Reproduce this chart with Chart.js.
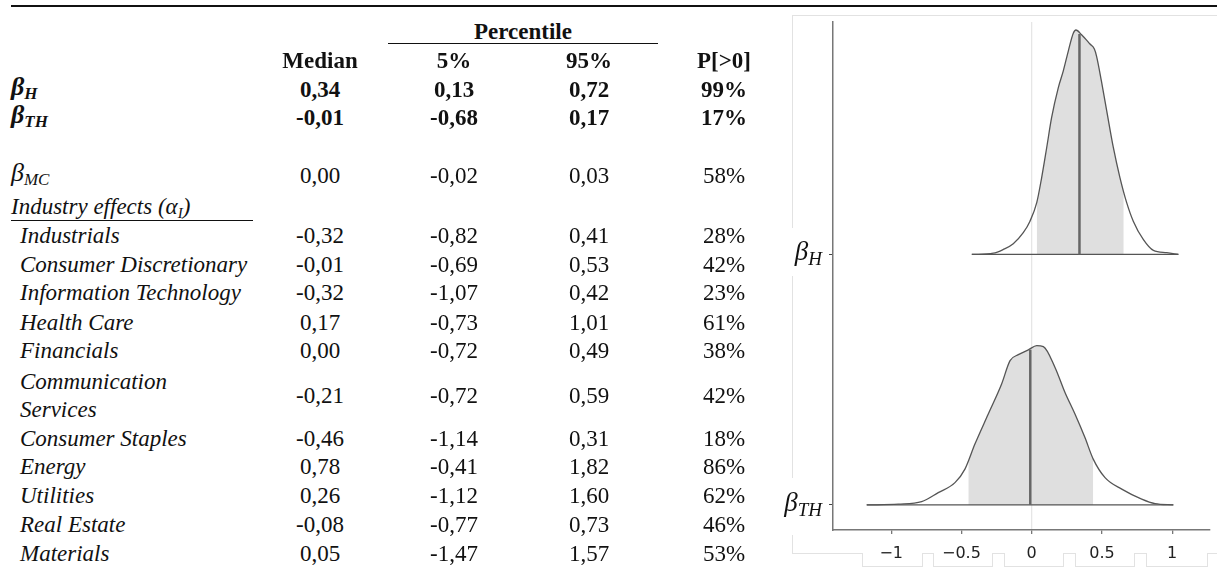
<!DOCTYPE html>
<html>
<head>
<meta charset="utf-8">
<script src="https://cdn.jsdelivr.net/npm/chart.js@4.4.1/dist/chart.umd.min.js"></script>
<style>
  html, body { margin:0; padding:0; background:#fff; }
  #page { position:relative; width:1217px; height:572px; overflow:hidden; background:#fff;
          font-family:"Liberation Serif","Times New Roman",serif; font-size:23px; color:#111; }
  .t { position:absolute; height:28px; line-height:28px; white-space:nowrap; }
  .c { width:200px; text-align:center; }
  .b { font-weight:bold; }
  .i { font-style:italic; }
  .beta { font-size:26px; }
  .sub { position:relative; top:4px; font-size:17px; }
  .rule { position:absolute; background:#111; }
  .fr { position:absolute; background:#e2e2e2; }
  #wrap { position:absolute; left:770px; top:0; width:447px; height:572px; }
</style>
</head>
<body>
<div id="page">
  <div id="wrap"><canvas id="c" width="447" height="572"></canvas></div>
</div>
<script>
// ---------- table data ----------
const industries = ['Industrials','Consumer Discretionary','Information Technology','Health Care','Financials',
  'Communication Services','Consumer Staples','Energy','Utilities','Real Estate','Materials'];
const medianVals = [0.34,-0.01,0.00,-0.32,-0.01,-0.32,0.17,0.00,-0.21,-0.46,0.78,0.26,-0.08,0.05];
const pct5Vals   = [0.13,-0.68,-0.02,-0.82,-0.69,-1.07,-0.73,-0.72,-0.72,-1.14,-0.41,-1.12,-0.77,-1.47];
const pct95Vals  = [0.72,0.17,0.03,0.41,0.53,0.42,1.01,0.49,0.59,0.31,1.82,1.60,0.73,1.57];
const probPos    = [99,17,58,28,42,23,61,38,42,18,86,62,46,53];
const colHeaders = ['Median','5%','95%','P[>0]'];

// ---------- ridge (density) data ----------
const ridgeLabels = [{main:'β', sub:'H'}, {main:'β', sub:'TH'}];
const ridgeBase = [2, 1];
// beta_H density
const hX = [-0.426,-0.273,-0.202,-0.131,-0.060,-0.012,0.036,0.071,0.107,0.142,0.190,0.225,0.261,0.296,0.315,0.355,0.415,0.446,0.461,0.496,0.534,0.581,0.628,0.676,0.723,0.794,0.866,0.961,1.044];
const hD = [0,0.005,0.020,0.043,0.087,0.133,0.207,0.307,0.427,0.547,0.667,0.733,0.813,0.883,0.896,0.877,0.840,0.820,0.793,0.693,0.573,0.427,0.307,0.207,0.133,0.060,0.016,0.007,0];
const hBand = [0.036, 0.655];
const hBandEdge = [0.207, 0.25];
const hMedian = 0.34, hMedianH = 0.88;
// beta_TH density
const tX = [-1.174,-0.949,-0.783,-0.665,-0.546,-0.475,-0.404,-0.309,-0.214,-0.154,-0.095,-0.024,0.036,0.083,0.166,0.237,0.308,0.379,0.438,0.522,0.641,0.783,0.878,1.008];
const tD = [0,0.003,0.013,0.049,0.089,0.143,0.243,0.363,0.483,0.576,0.600,0.619,0.636,0.632,0.549,0.449,0.363,0.269,0.183,0.109,0.063,0.023,0.005,0];
const tBand = [-0.451, 0.438];
const tBandEdge = [0.17, 0.183];
const tMedian = -0.01, tMedianH = 0.62;
const xTicks = [-1,-0.5,0,0.5,1];

// ---------- build table ----------
const page = document.getElementById('page');
function add(html, cls, style){
  const d = document.createElement('div');
  d.className = 't ' + cls; d.innerHTML = html;
  Object.assign(d.style, style); page.appendChild(d); return d;
}
function rule(l,t,w,h,cls){ const d=document.createElement('div'); d.className=cls||'rule';
  Object.assign(d.style,{left:l+'px',top:t+'px',width:w+'px',height:h+'px'}); page.appendChild(d); }
const fmt = v => v.toFixed(2).replace('.',',');

const colX = [320, 454, 589, 724];
rule(11,5,1206,2);
add('Percentile','c b',{left:(523-100)+'px', top:(32-14)+'px'});
rule(388,43,270,1);
colHeaders.forEach((h,i)=> add(h,'c b',{left:(colX[i]-100)+'px', top:(61-14)+'px'}));

const rowY = [90,118,176,236,264.5,293,322.5,351,395.5,438.5,466.5,495.5,524.5,553.5];
const mathLabels = [
  '<span class="i b"><span class="beta">β</span><span class="sub">H</span></span>',
  '<span class="i b"><span class="beta">β</span><span class="sub">TH</span></span>',
  '<span class="i"><span class="beta">β</span><span class="sub">MC</span></span>'
];
mathLabels.forEach((m,i)=> add(m,'',{left:'11px', top:(rowY[i]-17)+'px'}));
add('<span class="i">Industry effects (α<span class="sub" style="font-size:15px">I</span>)</span>','',{left:'11px', top:(207-14)+'px'});
rule(11,220,242,1);
industries.forEach((n,k)=>{
  const y = rowY[k+3];
  if(n==='Communication Services'){
    add('Communication','i',{left:'20px', top:(381.5-14)+'px'});
    add('Services','i',{left:'20px', top:(409.5-14)+'px'});
  } else add(n,'i',{left:'20px', top:(y-14)+'px'});
});
medianVals.forEach((v,i)=>{
  const cls = i<2 ? 'c b' : 'c';
  const top = (rowY[i]-14)+'px';
  add(fmt(v), cls, {left:(colX[0]-100)+'px', top});
  add(fmt(pct5Vals[i]), cls, {left:(colX[1]-100)+'px', top});
  add(fmt(pct95Vals[i]), cls, {left:(colX[2]-100)+'px', top});
  add(probPos[i]+'%', cls, {left:(colX[3]-100)+'px', top});
});

// light panel frame (screenshot artefact)
rule(792,15,425,1,'fr');
[[15,228],[276,478],[535,553]].forEach(s=>rule(792,s[0],1,s[1]-s[0],'fr'));
[[792,862],[922,933],[992,1004],[1063,1075],[1134,1146],[1207,1217]].forEach(s=>rule(s[0],553,s[1]-s[0],1,'fr'));
[[862,922],[933,992],[1004,1063],[1075,1134],[1146,1207]].forEach(s=>{
  rule(s[0],553,1,13,'fr'); rule(s[1],553,1,13,'fr'); rule(s[0],566,s[1]-s[0]+1,1,'fr');
});

// ---------- chart ----------
function curve(xs, ds, base){ return xs.map((x,i)=>({x, y: base + ds[i]})); }
function band(xs, ds, base, rng, edge){
  const pts = [{x:rng[0], y:base+edge[0]}];
  xs.forEach((x,i)=>{ if(x>rng[0] && x<rng[1]) pts.push({x, y:base+ds[i]}); });
  pts.push({x:rng[1], y:base+edge[1]});
  return pts;
}
const lineCol = '#555', fillCol = '#dfdfdf', medCol = '#666';
const common = {pointRadius:0, cubicInterpolationMode:'monotone'};

const yLabelPlugin = {
  id:'ylabels',
  afterDraw(chart){
    const ctx = chart.ctx, ys = chart.scales.y, xr = chart.chartArea.left - 11;
    ridgeLabels.forEach((lab,i)=>{
      const y = ys.getPixelForValue(ridgeBase[i]);
      ctx.save(); ctx.fillStyle = '#111'; ctx.textBaseline = 'alphabetic'; ctx.textAlign = 'left';
      const mf = 'italic 27px "Liberation Serif"', sf = 'italic 19px "Liberation Serif"';
      ctx.font = sf; const sw = ctx.measureText(lab.sub).width;
      ctx.font = mf; const mw = ctx.measureText(lab.main).width;
      ctx.fillText(lab.main, xr - sw - mw, y + 6);
      ctx.font = sf; ctx.fillText(lab.sub, xr - sw, y + 11);
      ctx.restore();
    });
  }
};

new Chart(document.getElementById('c'), {
  type:'line',
  data:{ datasets:[
    {data:[{x:hMedian,y:ridgeBase[0]},{x:hMedian,y:ridgeBase[0]+hMedianH}], borderColor:medCol, borderWidth:2.5, order:0, pointRadius:0},
    {data:[{x:tMedian,y:ridgeBase[1]},{x:tMedian,y:ridgeBase[1]+tMedianH}], borderColor:medCol, borderWidth:2.5, order:0, pointRadius:0},
    {data:curve(hX,hD,ridgeBase[0]), borderColor:lineCol, borderWidth:1.3, fill:false, order:1, ...common},
    {data:curve(tX,tD,ridgeBase[1]), borderColor:lineCol, borderWidth:1.3, fill:false, order:1, ...common},
    {data:[{x:hX[0],y:ridgeBase[0]},{x:hX[hX.length-1],y:ridgeBase[0]}], borderColor:lineCol, borderWidth:1.3, order:1, pointRadius:0},
    {data:[{x:tX[0],y:ridgeBase[1]},{x:tX[tX.length-1],y:ridgeBase[1]}], borderColor:lineCol, borderWidth:1.3, order:1, pointRadius:0},
    {data:band(hX,hD,ridgeBase[0],hBand,hBandEdge), borderWidth:0, borderColor:'rgba(0,0,0,0)', backgroundColor:fillCol, fill:{value:ridgeBase[0]}, order:3, ...common},
    {data:band(tX,tD,ridgeBase[1],tBand,tBandEdge), borderWidth:0, borderColor:'rgba(0,0,0,0)', backgroundColor:fillCol, fill:{value:ridgeBase[1]}, order:3, ...common}
  ]},
  options:{
    responsive:false, animation:false, devicePixelRatio:1,
    layout:{padding:{top:22,right:7,left:0,bottom:0}},
    plugins:{legend:{display:false}, tooltip:{enabled:false}},
    scales:{
      x:{type:'linear', min:-1.414, max:1.269,
        afterBuildTicks:s=>{ s.ticks = xTicks.map(v=>({value:v})); },
        afterFit:s=>{ s.height = 42; },
        ticks:{callback:v=>String(v).replace('-','−'), font:{family:'"DejaVu Sans", sans-serif', size:16}, color:'#222', padding:10, maxRotation:0, autoSkip:false},
        grid:{color:c=> (c.tick && c.tick.value===0) ? '#e6e6e6' : 'rgba(0,0,0,0)', tickColor:'#777', tickLength:4, lineWidth:1.3},
        border:{color:'#777', width:1.5}
      },
      y:{type:'linear', min:0.9, max:2.928,
        afterBuildTicks:s=>{ s.ticks = ridgeBase.map(v=>({value:v})); },
        afterFit:s=>{ s.width = 63; },
        ticks:{callback:()=>''},
        grid:{drawOnChartArea:false, tickColor:'#444', tickLength:4},
        border:{color:'#777', width:1.5}
      }
    }
  },
  plugins:[yLabelPlugin]
});
</script>
</body>
</html>
